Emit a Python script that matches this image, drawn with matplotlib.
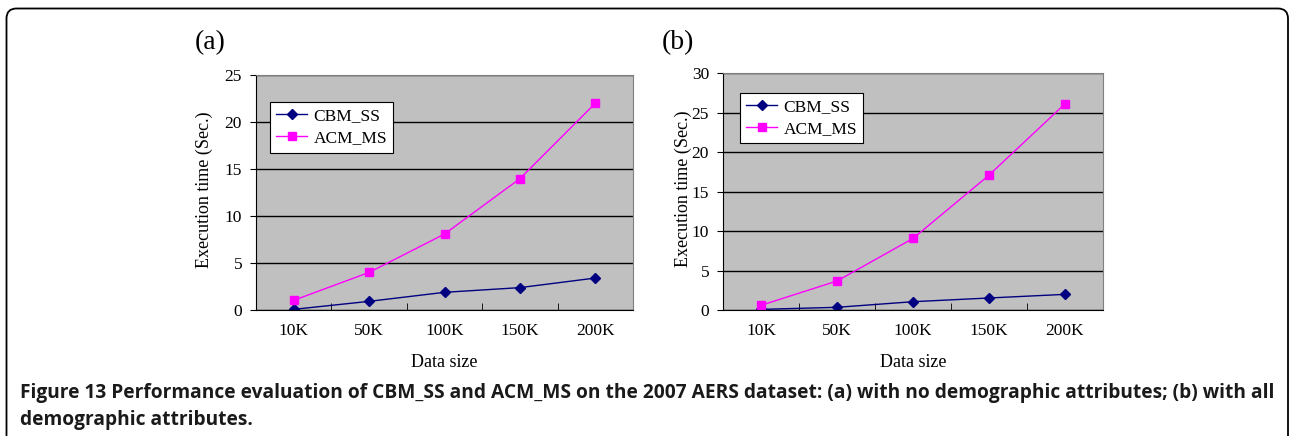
import numpy as np
import matplotlib
matplotlib.use("Agg")
import matplotlib.pyplot as plt
from matplotlib.patches import FancyBboxPatch

# data
sizes = ["10K", "50K", "100K", "150K", "200K"]
cbm_a = [0.07, 0.92, 1.88, 2.38, 3.4]
acm_a = [1.03, 4.0, 8.08, 13.97, 22.0]
cbm_b = [0.08, 0.34, 1.05, 1.52, 1.98]
acm_b = [0.59, 3.67, 9.06, 17.07, 26.1]

W, H = 1289, 436
serif = "Liberation Serif"
fs = 12.5

fig = plt.figure(figsize=(W / 100, H / 100), dpi=100)

# rounded frame around the whole figure (pixel coordinates)
bg = fig.add_axes([0, 0, 1, 1], zorder=-1)
bg.set_xlim(0, W)
bg.set_ylim(H, 0)
bg.axis("off")
bg.add_patch(FancyBboxPatch((6.5, 8.5), 1288 - 6.5, 500,
                            boxstyle="round,pad=0,rounding_size=10",
                            fill=False, edgecolor="black", linewidth=1.3))


def panel(rect, cbm, acm, ymax, letter, leg_anchor, ylab_x):
    l, t, r, b = rect
    ax = fig.add_axes([l / W, (H - b) / H, (r - l) / W, (b - t) / H])
    ax.set_facecolor("#C0C0C0")
    x = np.arange(len(sizes))
    ax.plot(x, cbm, color="#000080", marker="D", markersize=5, lw=1, label="CBM_SS")
    ax.plot(x, acm, color="#FF00FF", marker="s", markersize=5.5, lw=1, label="ACM_MS")
    ax.set_xlim(-0.5, len(sizes) - 0.5)
    ax.set_ylim(0, ymax)
    ax.set_yticks(np.arange(0, ymax + 1, 5))
    ax.yaxis.grid(True, color="black", lw=1)
    ax.set_axisbelow(True)
    ax.set_xticks(x)
    ax.set_xticklabels(sizes, fontfamily=serif, fontsize=fs)
    ax.set_xticks(x[:-1] + 0.5, minor=True)
    ax.tick_params(axis="x", which="major", length=0, pad=9)
    ax.tick_params(axis="x", which="minor", direction="in", length=5, color="black")
    ax.tick_params(axis="y", length=4, labelsize=fs, pad=6)
    for lab in ax.get_yticklabels():
        lab.set_fontfamily(serif)
    ax.spines["left"].set_color("black")
    ax.spines["bottom"].set_color("black")
    ax.spines["top"].set_color("#808080")
    ax.spines["right"].set_color("#808080")
    ax.set_ylabel("Execution time (Sec.)", fontfamily=serif, fontsize=13)
    ax.yaxis.set_label_coords(ylab_x, 0.51)
    ax.set_xlabel("Data size", fontfamily=serif, fontsize=13, labelpad=11)
    leg = ax.legend(loc="upper left", bbox_to_anchor=leg_anchor, borderaxespad=0,
                    fancybox=False, edgecolor="black", framealpha=1,
                    prop={"family": serif, "size": fs}, handlelength=1.8,
                    handletextpad=0.35, borderpad=0.35, labelspacing=0.35)
    leg.get_frame().set_linewidth(0.8)
    fig.text((l - 61) / W, 1 - 43 / H, letter, fontfamily=serif, fontsize=20,
             ha="left", va="center")
    return ax


panel((256, 75, 633, 310), cbm_a, acm_a, 25, "(a)", (0.037, 0.885), -0.113)
panel((723, 73, 1103, 310), cbm_b, acm_b, 30, "(b)", (0.045, 0.916), -0.082)

cap = dict(fontfamily="Open Sans", fontweight="bold", fontsize=13.8,
           ha="left", va="center", color="#1a1a1a")
fig.text(20 / W, 1 - 393 / H,
         "Figure 13 Performance evaluation of CBM_SS and ACM_MS on the 2007 AERS dataset: "
         "(a) with no demographic attributes; (b) with all", **cap)
fig.text(20 / W, 1 - 420 / H, "demographic attributes.", **cap)

fig.savefig("out.png", dpi=100)
